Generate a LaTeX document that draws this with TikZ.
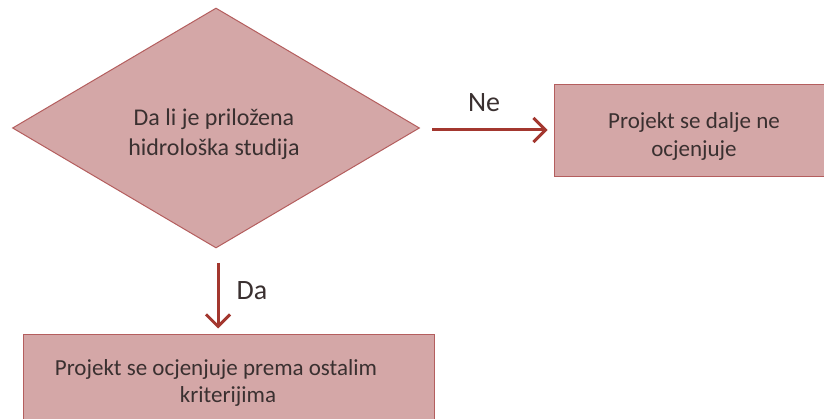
\documentclass[tikz,border=0pt]{standalone}
\usepackage{fontspec}
\setmainfont{Carlito}
\usetikzlibrary{shapes.geometric,arrows.meta}
\definecolor{boxfill}{HTML}{D4A7A7}
\definecolor{boxline}{HTML}{B45E5E}
\definecolor{arrowc}{HTML}{A3372F}
\definecolor{txt}{HTML}{3A3030}
\tikzset{
  shapebox/.style={draw=boxline, fill=boxfill, line width=1pt, inner sep=0pt},
  boxtext/.style={text=txt, align=center, inner sep=0pt},
  flowarrow/.style={draw=arrowc, line width=3pt, -{Straight Barb[length=12pt,width=24pt,line width=3pt]}},
  lbl/.style={text=txt, font=\fontsize{28}{32}\selectfont, inner sep=0pt}
}
\begin{document}
\begin{tikzpicture}[x=1pt,y=-1pt]
\clip (0,0) rectangle (824,419);
\fill[white] (0,0) rectangle (824,419);
\node[shapebox, diamond, minimum width=407pt, minimum height=240pt] (q) at (216,128) {};
\node[boxtext, font=\fontsize{24}{30}\selectfont] (qt) at (214,134) {Da li je priložena\\hidrološka studija};
\node[shapebox, minimum width=280pt, minimum height=92pt] (ne) at (694,131) {};
\node[boxtext, font=\fontsize{23}{28}\selectfont] (net) at (694,136) {Projekt se dalje ne\\ocjenjuje};
\node[shapebox, minimum width=411pt, minimum height=96pt] (da) at (228.5,383) {};
\node[boxtext, font=\fontsize{23}{27}\selectfont] (dat) at (228,383) {Projekt se ocjenjuje prema ostalim\hspace*{24pt}\\kriterijima};
\coordinate (qr) at (432,130);
\coordinate (qb) at (218,263);
\draw[flowarrow, shorten >=6pt] (qr) -- (ne.west |- qr);
\draw[flowarrow, shorten >=6pt] (qb) -- (qb |- da.north);
\node[lbl] (nel) at (484,103) {Ne};
\node[lbl] (dal) at (252,291) {Da};
\end{tikzpicture}
\end{document}
